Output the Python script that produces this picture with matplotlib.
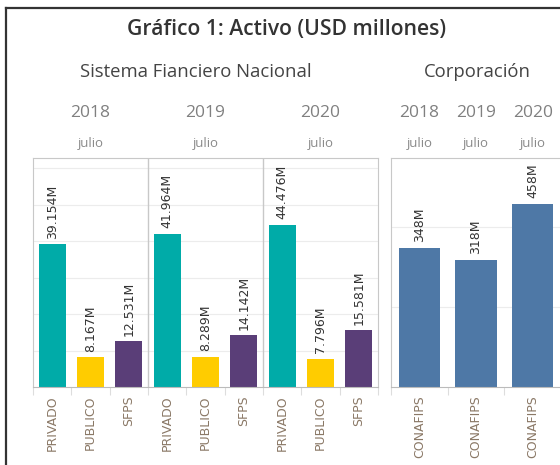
import numpy as np
import matplotlib.pyplot as plt
from matplotlib.lines import Line2D
import matplotlib.transforms as mtransforms

# data
years = ['2018', '2019', '2020']
month = 'julio'
sfn_categories = ['PRIVADO', 'PUBLICO', 'SFPS']
privado = [39.154, 41.964, 44.476]
publico = [8.167, 8.289, 7.796]
sfps = [12.531, 14.142, 15.581]
corp_category = 'CONAFIPS'
conafips = [348, 318, 458]

sfn_colors = ['#00aba8', '#ffcc00', '#5a3e78']
corp_color = '#4e78a6'
grid_color = '#ececec'
border_color = '#c8c8c8'
label_color = '#8a7866'

W, H = 560, 465
fig = plt.figure(figsize=(W / 100, H / 100), dpi=100)

def fx(px):
    return px / W

def fy(py):
    return 1 - py / H

# outer frame (left and top)
fig.add_artist(Line2D([fx(5.5), fx(5.5)], [fy(8), 0], color='#333333', lw=1.6))
fig.add_artist(Line2D([fx(5.5), 1], [fy(8), fy(8)], color='#333333', lw=1.6))

top, base = 158, 387
ax1 = fig.add_axes([fx(33), fy(base), fx(378) - fx(33), fy(top) - fy(base)])
ax2 = fig.add_axes([fx(391), fy(base), fx(561) - fx(391), fy(top) - fy(base)])

def style(ax, ymax, step):
    ax.set_ylim(0, ymax)
    ax.set_yticks(np.arange(step, ymax, step))
    ax.yaxis.grid(True, color=grid_color, lw=0.8)
    ax.set_axisbelow(True)
    ax.tick_params(axis='y', length=0, labelleft=False)
    for s in ['left', 'right', 'top']:
        ax.spines[s].set_color(border_color)
        ax.spines[s].set_linewidth(0.8)
    ax.spines['bottom'].set_color('#bbbbbb')
    ax.spines['bottom'].set_linewidth(0.8)
    ax.tick_params(axis='x', which='major', length=0, pad=6, labelrotation=90,
                   labelsize=9, labelcolor=label_color)
    ax.tick_params(axis='x', which='minor', length=6, color='#dddddd', width=0.8)

# Sistema Financiero Nacional
x_pos = []
vals = []
cols = []
names = []
for i, yr in enumerate(years):
    for j, cat in enumerate(sfn_categories):
        x_pos.append(i * 3 + j)
        vals.append([privado, publico, sfps][j][i])
        cols.append(sfn_colors[j])
        names.append(cat)

ax1.bar(x_pos, vals, width=0.7, color=cols)
for x, v in zip(x_pos, vals):
    ax1.annotate(f'{v:.3f}M', (x, v), xytext=(0, 4), textcoords='offset points',
                 rotation=90, ha='center', va='bottom', fontsize=9, color='#333333')
ax1.set_xlim(-0.5, 8.5)
style(ax1, 62.8, 10)
ax1.set_xticks(x_pos)
ax1.set_xticklabels(names)
ax1.set_xticks(np.arange(-0.5, 9, 1), minor=True)
for d in [2.5, 5.5]:
    ax1.axvline(d, color=border_color, lw=1)

# Corporacion
cx = np.arange(len(conafips))
ax2.bar(cx, conafips, width=0.73, color=corp_color)
for x, v in zip(cx, conafips):
    ax2.annotate(f'{v}M', (x, v), xytext=(0, 4), textcoords='offset points',
                 rotation=90, ha='center', va='bottom', fontsize=9, color='#333333')
ax2.set_xlim(-0.5, 2.5)
style(ax2, 572, 200)
ax2.set_xticks(cx)
ax2.set_xticklabels([corp_category] * len(cx))
ax2.set_xticks(np.arange(-0.5, 3, 1), minor=True)
ax2.spines['right'].set_visible(False)

# headers
fig.text(fx(287), fy(30), 'Gráfico 1: Activo (USD millones)', ha='center', va='center',
         fontsize=15.2, color='#333333', family='Open Sans', weight='semibold')
fig.text(fx(196), fy(72), 'Sistema Fianciero Nacional', ha='center', va='center',
         fontsize=13.3, color='#444444', family='Open Sans')
fig.text(fx(477), fy(72), 'Corporación', ha='center', va='center',
         fontsize=13.3, color='#444444', family='Open Sans')

t1 = mtransforms.blended_transform_factory(ax1.transData, fig.transFigure)
t2 = mtransforms.blended_transform_factory(ax2.transData, fig.transFigure)
for i, yr in enumerate(years):
    ax1.text(i * 3 + 1, fy(113), yr, transform=t1, ha='center', va='center',
             fontsize=12.5, color='#808080', family='Open Sans')
    ax1.text(i * 3 + 1, fy(143), month, transform=t1, ha='center', va='center',
             fontsize=9.5, color='#8a8a8a', family='Open Sans')
    ax2.text(i, fy(113), yr, transform=t2, ha='center', va='center',
             fontsize=12.5, color='#808080', family='Open Sans')
    ax2.text(i, fy(143), month, transform=t2, ha='center', va='center',
             fontsize=9.5, color='#8a8a8a', family='Open Sans')

fig.savefig('out.png', dpi=100)
